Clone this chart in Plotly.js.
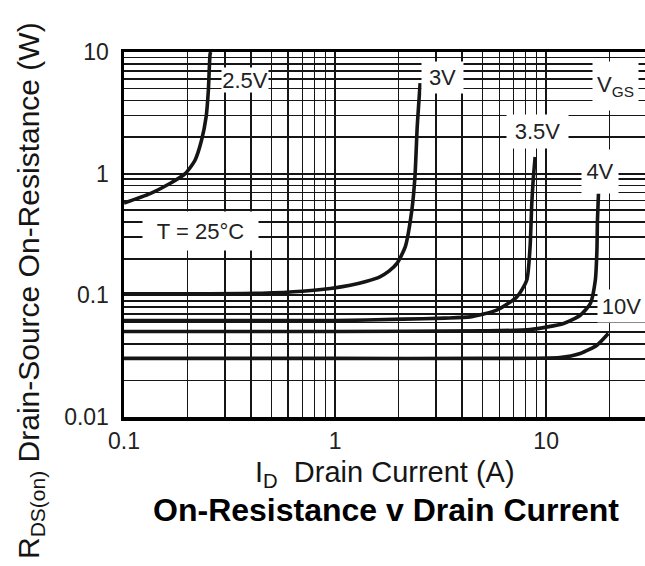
<!DOCTYPE html>
<html>
<head>
<meta charset="utf-8">
<script src="https://cdn.plot.ly/plotly-3.0.1.min.js"></script>
<style>html,body{margin:0;padding:0;background:#fff;}#chart{width:645px;height:566px;}</style>
</head>
<body>
<div id="chart"></div>
<script>
// ---- data (I_D in A, R_DS(on) in ohm) ----
const vgsLabels = ['2.5V', '3V', '3.5V', '4V', '10V'];
const id_2v5 = [0.1, 0.133, 0.165, 0.195, 0.217, 0.233, 0.245, 0.251, 0.256, 0.258];
const r_2v5  = [0.574, 0.686, 0.83, 1.0, 1.29, 1.88, 2.93, 4.84, 9.7, 10];
const id_3v  = [0.1, 0.25, 0.45, 0.7, 0.95, 1.18, 1.4, 1.63, 1.8, 1.96, 2.15, 2.31, 2.39, 2.45, 2.53];
const r_3v   = [0.103, 0.103, 0.104, 0.108, 0.114, 0.121, 0.13, 0.142, 0.158, 0.182, 0.25, 0.5, 0.94, 2.42, 5.56];
const id_3v5 = [0.1, 1, 2.1, 3.3, 4.37, 5.83, 7.26, 8.09, 8.39, 8.55, 8.68, 8.87];
const r_3v5  = [0.062, 0.062, 0.0637, 0.065, 0.0665, 0.0755, 0.097, 0.133, 0.248, 0.57, 0.88, 1.37];
const id_4v  = [0.1, 1, 5, 8.4, 12.1, 14.5, 16.2, 17.1, 17.4, 17.5, 17.7];
const r_4v   = [0.0505, 0.0505, 0.051, 0.0524, 0.0587, 0.0686, 0.0857, 0.133, 0.234, 0.414, 0.687];
const id_10v = [0.1, 1, 5, 11.6, 14.5, 17.4, 19.7];
const r_10v  = [0.0303, 0.0303, 0.0303, 0.0308, 0.0333, 0.0389, 0.0485];

const xTickVals = [0.1, 1, 10];
const xTickText = ['0.1', '1', '10'];
const yTickVals = [0.01, 0.1, 1, 10];
const yTickText = ['0.01', '0.1', '1', '10'];

// ---- layout helpers (pixel -> paper) ----
const W = 645, H = 566;
const M = {l: 124, r: 0, t: 52, b: 149};
const PW = W - M.l - M.r, PH = H - M.t - M.b;
const px = x => (x - M.l) / PW;
const py = y => (H - M.b - y) / PH;

const FONT = 'Liberation Sans, Arial, Helvetica, sans-serif';
const INK = '#151515';

const series = [[id_2v5, r_2v5], [id_3v, r_3v], [id_3v5, r_3v5], [id_4v, r_4v], [id_10v, r_10v]];
const traces = series.map((s, i) => ({
  x: s[0], y: s[1], name: vgsLabels[i], type: 'scatter', mode: 'lines',
  line: {color: INK, width: 3.6, shape: 'spline', smoothing: 0.6},
  hoverinfo: 'skip', cliponaxis: true
}));

function box(text, cx, cy, w, h, extra) {
  return Object.assign({
    text: text, xref: 'paper', yref: 'paper', x: px(cx), y: py(cy),
    xanchor: 'center', yanchor: 'middle', showarrow: false,
    bgcolor: '#ffffff', borderpad: 0, width: w, height: h,
    font: {family: FONT, size: 22, color: '#222'}
  }, extra || {});
}

const annotations = [
  box('2.5V', 245, 80, 46, 24),
  box('3V', 442.5, 77.5, 41, 31),
  box('V<sub>GS</sub>', 615.5, 86, 45, 48),
  box('3.5V', 537.5, 131.5, 61, 33),
  box('4V', 600, 171.5, 36, 43),
  box('10V', 621.5, 306, 47, 32),
  box('T = 25°C', 200.5, 231, 115, 38),
  // axis titles
  {text: 'R<sub>DS(on)</sub> Drain-Source On-Resistance (W)', xref: 'paper', yref: 'paper',
   x: px(30), y: py(291), xanchor: 'center', yanchor: 'middle', textangle: -90, showarrow: false,
   font: {family: FONT, size: 30, color: INK}},
  {text: 'I<sub>D</sub>  Drain Current (A)', xref: 'paper', yref: 'paper',
   x: px(385), y: py(474), xanchor: 'center', yanchor: 'middle', showarrow: false,
   font: {family: FONT, size: 29, color: INK}}
];

const gridCol = '#151515';
const layout = {
  width: W, height: H, margin: M,
  paper_bgcolor: '#fff', plot_bgcolor: '#fff',
  showlegend: false,
  title: {text: 'On-Resistance v Drain Current', x: 386 / W, xanchor: 'center',
          y: 1 - 510 / H, yanchor: 'middle', xref: 'container', yref: 'container',
          font: {family: FONT, size: 32, weight: 'bold', color: '#000'}},
  xaxis: {type: 'log', range: [-1, Math.log10(29.4)], tickmode: 'array',
          tickvals: xTickVals, ticktext: xTickText, ticks: '', ticklabelstandoff: 1,
          showgrid: true, gridcolor: gridCol, gridwidth: 2,
          minor: {dtick: 'D1', showgrid: true, gridcolor: gridCol, gridwidth: 1.6, ticks: ''},
          showline: true, linecolor: '#000', linewidth: 3.5, mirror: true,
          zeroline: false, tickfont: {family: FONT, size: 23, color: '#222'}},
  yaxis: {type: 'log', range: [-2, 1], tickmode: 'array',
          tickvals: yTickVals, ticktext: yTickText, ticks: '', ticklabelstandoff: 7,
          showgrid: true, gridcolor: gridCol, gridwidth: 2,
          minor: {dtick: 'D1', showgrid: true, gridcolor: gridCol, gridwidth: 1.6, ticks: ''},
          showline: true, linecolor: '#000', linewidth: 3.5, mirror: false,
          zeroline: false, tickfont: {family: FONT, size: 23, color: '#222'}},
  annotations: annotations
};

Plotly.newPlot('chart', traces, layout, {staticPlot: true, displayModeBar: false});
</script>
</body>
</html>
